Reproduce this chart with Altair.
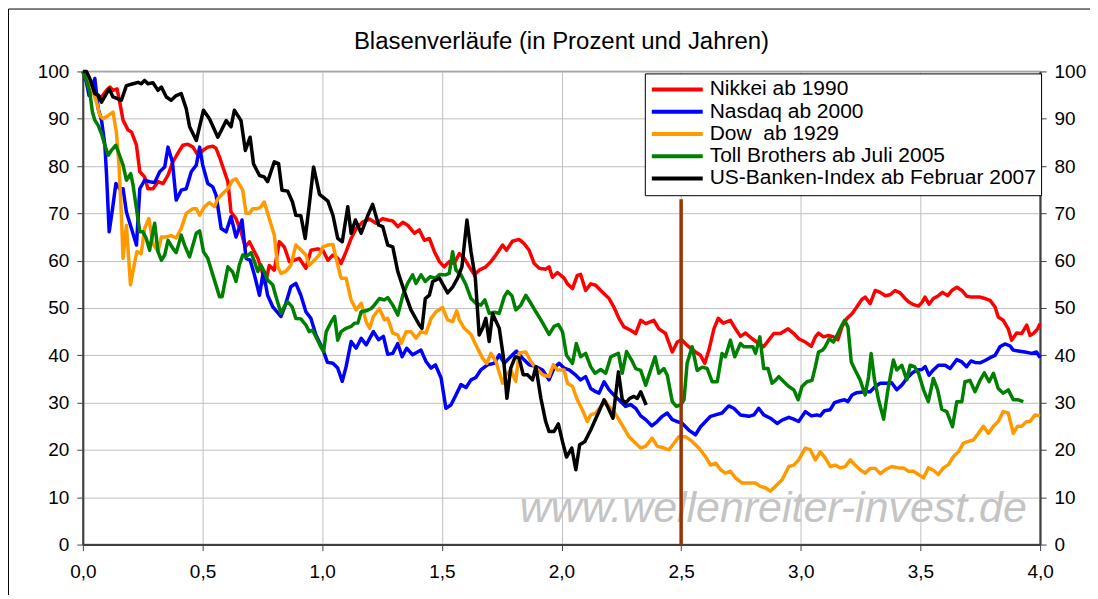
import altair as alt
import pandas as pd

FONT = "Liberation Sans"

title_text = "Blasenverläufe (in Prozent und Jahren)"
watermark_text = ["www.wellenreiter-invest.de"]
watermark_x = [2.885]
watermark_y = [4.85]

series_names = [
    "Nikkei ab 1990",
    "Nasdaq ab 2000",
    "Dow\u00a0 ab 1929",
    "Toll Brothers ab Juli 2005",
    "US-Banken-Index ab Februar 2007",
]
series_colors = ["#FF0000", "#0000FF", "#FF9900", "#008000", "#000000"]

x_ticks = [0.0, 0.5, 1.0, 1.5, 2.0, 2.5, 3.0, 3.5, 4.0]
y_ticks = [0, 10, 20, 30, 40, 50, 60, 70, 80, 90, 100]

marker_x = [2.5]
marker_y = [0]
marker_y2 = [73]

# ---- Nikkei ab 1990 ----
nikkei_x = [0.000, 0.015, 0.036, 0.057, 0.078, 0.099, 0.113, 0.126, 0.143, 0.154,
            0.168, 0.189, 0.203, 0.224, 0.238, 0.258, 0.272, 0.293, 0.314, 0.335,
            0.356, 0.376, 0.404, 0.418, 0.439, 0.460, 0.481, 0.501, 0.522, 0.543,
            0.557, 0.571, 0.585, 0.606, 0.619, 0.640, 0.661, 0.679, 0.696, 0.717,
            0.731, 0.749, 0.762, 0.779, 0.800, 0.821, 0.842, 0.863, 0.883, 0.904,
            0.932, 0.953, 0.981,
            1.003, 1.024, 1.045, 1.065, 1.079, 1.100, 1.121, 1.142, 1.170, 1.198,
            1.225, 1.253, 1.274, 1.295, 1.316, 1.337, 1.357, 1.385, 1.406, 1.427,
            1.448, 1.469, 1.490, 1.510, 1.531, 1.552, 1.573, 1.594, 1.615, 1.636,
            1.656, 1.684, 1.705, 1.726, 1.754, 1.770, 1.795, 1.823, 1.844, 1.865,
            1.886, 1.907, 1.934, 1.948, 1.962, 1.983, 2.011, 2.025,
            2.046, 2.066, 2.080, 2.101, 2.122, 2.143, 2.164, 2.199, 2.219, 2.240,
            2.261, 2.289, 2.310, 2.331, 2.352, 2.386, 2.407, 2.435, 2.463, 2.484,
            2.502, 2.525, 2.560, 2.581, 2.599, 2.616, 2.637, 2.655, 2.676, 2.706,
            2.727, 2.748, 2.769, 2.797, 2.824, 2.845, 2.866, 2.887, 2.915, 2.947,
            2.971,
            2.991, 3.019, 3.044, 3.061, 3.074, 3.095, 3.116, 3.137, 3.155, 3.172,
            3.193, 3.214, 3.234, 3.255, 3.269, 3.290, 3.311, 3.332, 3.353, 3.373,
            3.394, 3.415, 3.436, 3.450, 3.471, 3.492, 3.508, 3.519, 3.536, 3.554,
            3.575, 3.592, 3.614, 3.631, 3.652, 3.673, 3.693, 3.714, 3.749, 3.770,
            3.791, 3.812, 3.825, 3.846, 3.867, 3.881, 3.902, 3.923, 3.944, 3.958,
            3.972, 3.990, 4.000]
nikkei_y = [100, 98.5, 96.3, 94.9, 94.6, 96, 96.7, 96, 96.3, 93.5,
            89.7, 87.6, 87.2, 84.4, 78.8, 77.7, 75.2, 75.2, 76.7, 76.3,
            78.1, 80.9, 83.3, 84.4, 84.6, 84, 82.3, 83.3, 84, 84.2,
            83.7, 81.9, 79.8, 76.7, 70.3, 68.9, 66.1, 62.9, 64, 61.9,
            60.5, 57.7, 55, 59, 58, 64, 62.9, 59.8, 60.1, 60.5,
            58.4, 62.2, 62.5,
            62.2, 60.1, 61.2, 60.5, 59.4, 61.9, 64.7, 66.8, 68.2, 68.8,
            67.9, 68.9, 68.6, 68.4, 67.2, 68.1, 67.5, 65.8, 66.5, 64.3,
            64.7, 61.9, 59.8, 58.7, 59.8, 59.4, 61.5, 60.5, 58.7, 57,
            58, 58.7, 59.8, 61.2, 63.3, 62.2, 64.1, 64.5, 63.6, 62.2,
            59.4, 58.4, 58.2, 58.7, 56.5, 57.5, 56.3, 55.1,
            54.1, 56.9, 57.1, 53.7, 55.1, 54.8, 53.7, 52, 50.2, 47.8,
            46, 45.3, 44.6, 47.4, 46.7, 47.4, 45.6, 44.6, 40.7, 42.8,
            43.3, 42.1, 40.7, 40, 38.3, 41.1, 45.6, 47.8, 46.8, 47.4,
            45.6, 44, 44.7, 43.5, 42.5, 41.8, 43.2, 44.6, 44.6, 45.6,
            44.6,
            43.5, 42.8, 41.9, 43.9, 44.7, 43.9, 44.2, 43.9, 43.3, 46,
            47.8, 48.8, 50.2, 51.8, 52.3, 50.9, 53.7, 53.3, 52.6, 52.8,
            53.7, 53.2, 52, 51.3, 50.7, 50.4, 51.3, 52.3, 50.8, 52,
            52.6, 53.3, 52.6, 53.7, 54.4, 53.7, 52.5, 52.3, 52.3, 52,
            51.6, 50.2, 48.1, 47.4, 45.6, 43.2, 44.7, 44.6, 46.4, 44.2,
            44.6, 45.6, 46.7]

# ---- Nasdaq ab 2000 ----
nasdaq_x = [0.000, 0.015, 0.026, 0.040, 0.050, 0.064, 0.078, 0.092, 0.099, 0.110,
            0.124, 0.138, 0.154, 0.168, 0.182, 0.203, 0.224, 0.238, 0.258, 0.279,
            0.300, 0.321, 0.342, 0.356, 0.374, 0.390, 0.411, 0.432, 0.453, 0.474,
            0.488, 0.501, 0.522, 0.543, 0.557, 0.578, 0.599, 0.619, 0.640, 0.665,
            0.682, 0.699, 0.717, 0.738, 0.754, 0.772, 0.793, 0.828, 0.846, 0.869,
            0.890, 0.911, 0.932, 0.953, 0.974, 1.001,
            1.022, 1.045, 1.065, 1.084, 1.100, 1.121, 1.142, 1.163, 1.184, 1.214,
            1.236, 1.256, 1.274, 1.295, 1.316, 1.334, 1.353, 1.378, 1.413, 1.434,
            1.455, 1.473, 1.497, 1.517, 1.538, 1.559, 1.580, 1.601, 1.622, 1.642,
            1.663, 1.691, 1.719, 1.740, 1.761, 1.781, 1.812, 1.837, 1.865, 1.893,
            1.921, 1.948, 1.969, 1.990, 2.011, 2.032,
            2.060, 2.080, 2.101, 2.122, 2.143, 2.157, 2.178, 2.199, 2.219, 2.240,
            2.268, 2.289, 2.310, 2.331, 2.352, 2.377, 2.400, 2.421, 2.442, 2.463,
            2.484, 2.505, 2.532, 2.560, 2.581, 2.602, 2.623, 2.644, 2.671, 2.699,
            2.720, 2.748, 2.783, 2.804, 2.824, 2.845, 2.873, 2.901, 2.922, 2.950,
            2.970, 2.991,
            3.019, 3.044, 3.067, 3.081, 3.099, 3.123, 3.141, 3.165, 3.183, 3.197,
            3.214, 3.234, 3.269, 3.290, 3.311, 3.332, 3.360, 3.380, 3.401, 3.422,
            3.443, 3.464, 3.485, 3.506, 3.520, 3.536, 3.554, 3.575, 3.603, 3.624,
            3.652, 3.673, 3.693, 3.711, 3.728, 3.749, 3.770, 3.791, 3.812, 3.832,
            3.853, 3.874, 3.888, 3.909, 3.937, 3.965, 3.985, 4.000]
nasdaq_y = [100, 97.7, 94.9, 97, 98.5, 92.1, 89.7, 84.4, 78.1, 66.1,
            71, 76.3, 75.2, 75.2, 70.3, 66.8, 63.3, 75.2, 77, 76.7,
            76.5, 78.8, 79.8, 84, 80.9, 72.8, 74.9, 75.2, 78.8, 80.2,
            84, 80.2, 76.3, 75.6, 73.8, 66.8, 66.1, 69.3, 65, 68.6,
            60.5, 60.1, 57, 52.7, 57.7, 52.7, 50.3, 48.2, 50.6, 54.5,
            55.2, 52.7, 49.2, 47.8, 44.3, 41.5,
            38.5, 38.3, 37.3, 34.5, 37.6, 42.9, 41.5, 43.6, 42.2, 45,
            43.3, 44, 40.2, 40.4, 42.5, 39.7, 41.5, 40.1, 41.1, 38.7,
            37.3, 38, 35.2, 28.8, 29.5, 31.6, 33.8, 33.2, 34.8, 35.3,
            36.9, 38, 38.3, 40.1, 38.3, 39.4, 40.9, 39.4, 38, 37.6,
            36.9, 34.8, 37.3, 38.3, 37.3, 36.9,
            35.8, 34.8, 35.5, 33, 32.3, 32, 34.4, 32.7, 31.6, 30.6,
            29.2, 29.6, 28.8, 27.2, 26.4, 25.1, 26, 27.1, 27.8, 26.4,
            26, 25.6, 24.2, 23.2, 24.9, 26, 27.1, 27.4, 27.8, 29.3,
            28.8, 27.4, 27.1, 27.4, 28.8, 27.4, 26.7, 25.6, 26.3, 26.9,
            26.5, 26,
            28.1, 27.2, 27.4, 27.2, 28.3, 28.5, 30, 30.4, 30.6, 30.2,
            31.6, 32.1, 32.3, 32.3, 33.4, 34.1, 34.1, 34.2, 32.7, 33.7,
            35.1, 36.2, 36.9, 37, 37.6, 35.8, 36.9, 37.9, 37.9, 37.2,
            39.1, 38.6, 37.6, 38.8, 38.5, 38.4, 38.9, 39.5, 40, 41.8,
            42.4, 42, 41.1, 40.9, 40.7, 40.4, 40.7, 39.5]

# ---- Dow ab 1929 ----
dow_x = [0.000, 0.015, 0.029, 0.043, 0.057, 0.071, 0.085, 0.106, 0.126, 0.140,
         0.151, 0.161, 0.168, 0.182, 0.199, 0.217, 0.226, 0.244, 0.258, 0.276,
         0.293, 0.314, 0.328, 0.349, 0.369, 0.390, 0.411, 0.432, 0.460, 0.474,
         0.488, 0.508, 0.529, 0.550, 0.564, 0.585, 0.606, 0.626, 0.640, 0.668,
         0.682, 0.696, 0.710, 0.731, 0.744, 0.758, 0.779, 0.800, 0.814, 0.828,
         0.849, 0.869, 0.890, 0.911, 0.932, 0.946, 0.967, 0.988,
         1.003, 1.024, 1.045, 1.065, 1.079, 1.100, 1.121, 1.142, 1.163, 1.184,
         1.198, 1.214, 1.239, 1.260, 1.274, 1.295, 1.316, 1.330, 1.351, 1.371,
         1.392, 1.413, 1.434, 1.455, 1.476, 1.503, 1.524, 1.545, 1.562, 1.573,
         1.594, 1.622, 1.642, 1.670, 1.688, 1.705, 1.726, 1.754, 1.768, 1.788,
         1.809, 1.823, 1.851, 1.872, 1.893, 1.921, 1.948, 1.966, 1.983, 2.011,
         2.025, 2.046, 2.066, 2.087, 2.108, 2.122, 2.143, 2.164, 2.185, 2.199,
         2.219, 2.240, 2.261, 2.282, 2.310, 2.331, 2.352, 2.379, 2.400, 2.428,
         2.449, 2.470, 2.491, 2.518, 2.546, 2.574, 2.602, 2.623, 2.644, 2.665,
         2.685, 2.706, 2.727, 2.755, 2.790, 2.810, 2.831, 2.852, 2.873, 2.894,
         2.922, 2.950, 2.971, 2.991,
         3.019, 3.040, 3.061, 3.081, 3.102, 3.123, 3.144, 3.165, 3.186, 3.207,
         3.227, 3.248, 3.269, 3.290, 3.311, 3.332, 3.353, 3.380, 3.408, 3.429,
         3.450, 3.471, 3.492, 3.513, 3.533, 3.554, 3.575, 3.596, 3.617, 3.638,
         3.659, 3.679, 3.700, 3.721, 3.742, 3.763, 3.784, 3.805, 3.825, 3.846,
         3.867, 3.888, 3.906, 3.923, 3.944, 3.958, 3.979, 4.000]
dow_y = [100, 98.5, 97, 95.6, 93.5, 90.7, 90, 90.7, 91.4, 87.2,
         80.2, 69.6, 60.5, 67.5, 54.9, 59.8, 61.9, 61.5, 66.8, 68.9,
         63.6, 61.9, 65, 65, 65.3, 64.8, 66.8, 70, 71, 71,
         69.6, 71.4, 72.3, 71.4, 73.1, 74.2, 75.2, 77, 77.3, 74.9,
         70, 70, 71, 71, 71.4, 72.4, 68.9, 65.4, 58.7, 57.3,
         57.8, 59, 63.3, 62.3, 61.2, 59, 60.1, 61.2,
         62.9, 63.3, 63.4, 59.1, 56.3, 56.3, 51.7, 49.6, 51, 47.1,
         45.7, 48.2, 49.9, 47.5, 47.8, 44.7, 44.3, 42.5, 45, 45,
         43.6, 45, 44.7, 47.8, 49.2, 50.1, 47.5, 47.1, 49.4, 47.5,
         45.7, 44.4, 42.2, 39.4, 38.3, 40.4, 38.7, 34.1, 35.9, 36.9,
         34.5, 40.5, 40.7, 38.7, 37.3, 35.9, 35.5, 38, 36.9, 36.9,
         34.1, 33.4, 30.6, 28.5, 26, 27.4, 27.8, 29.2, 30.2, 29.2,
         28.1, 26.4, 24.6, 22.8, 21.4, 20.4, 20.8, 22.5, 20.8, 20.4,
         20, 21.4, 22.8, 22.8, 21.8, 20.4, 18.6, 16.8, 17.2, 15.8,
         15.1, 15.5, 14.1, 13, 13, 13, 12.3, 12, 11.3, 12.3,
         13.7, 16.5, 16.8, 17.9,
         20.4, 20, 17.9, 19.6, 18.3, 16.5, 16.8, 16.2, 16.5, 17.9,
         16.8, 15.8, 15.1, 16.1, 16.1, 15, 15.8, 16.5, 16.2, 16.2,
         15.5, 15.5, 14.8, 14.1, 16.2, 15.7, 14.8, 16.2, 16.9, 18.6,
         19.6, 21.4, 21.8, 22.1, 23.5, 25, 23.5, 25, 26, 28.1,
         27.8, 23.5, 25, 25, 26, 26, 27.4, 27.2]

# ---- Toll Brothers ab Juli 2005 ----
toll_x = [0.000, 0.015, 0.029, 0.040, 0.050, 0.064, 0.078, 0.092, 0.106, 0.119,
          0.138, 0.151, 0.168, 0.182, 0.200, 0.210, 0.224, 0.238, 0.251, 0.265,
          0.279, 0.290, 0.300, 0.314, 0.328, 0.342, 0.356, 0.376, 0.390, 0.411,
          0.425, 0.446, 0.460, 0.474, 0.488, 0.504, 0.522, 0.543, 0.571, 0.582,
          0.606, 0.626, 0.640, 0.654, 0.668, 0.682, 0.703, 0.717, 0.731, 0.744,
          0.758, 0.772, 0.793, 0.807, 0.828, 0.842, 0.856, 0.874, 0.890, 0.911,
          0.932, 0.946, 0.960, 0.981, 0.994, 1.006,
          1.017, 1.038, 1.052, 1.065, 1.079, 1.100, 1.121, 1.135, 1.149, 1.163,
          1.184, 1.205, 1.218, 1.239, 1.260, 1.274, 1.295, 1.316, 1.337, 1.357,
          1.378, 1.392, 1.413, 1.431, 1.451, 1.473, 1.492, 1.515, 1.531, 1.545,
          1.559, 1.580, 1.601, 1.622, 1.642, 1.663, 1.680, 1.698, 1.719, 1.740,
          1.761, 1.775, 1.793, 1.809, 1.830, 1.851, 1.872, 1.893, 1.914, 1.934,
          1.948, 1.969, 1.987, 2.004,
          2.021, 2.046, 2.062, 2.080, 2.101, 2.122, 2.140, 2.164, 2.185, 2.206,
          2.219, 2.238, 2.254, 2.272, 2.293, 2.310, 2.331, 2.352, 2.372, 2.391,
          2.407, 2.428, 2.442, 2.463, 2.480, 2.498, 2.512, 2.525, 2.546, 2.567,
          2.588, 2.609, 2.630, 2.651, 2.671, 2.685, 2.706, 2.724, 2.748, 2.762,
          2.786, 2.800, 2.811, 2.829, 2.845, 2.863, 2.880, 2.894, 2.908, 2.929,
          2.950, 2.971, 2.989,
          3.005, 3.026, 3.047, 3.061, 3.074, 3.091, 3.102, 3.119, 3.137, 3.155,
          3.172, 3.183, 3.197, 3.211, 3.227, 3.248, 3.269, 3.283, 3.294, 3.308,
          3.325, 3.346, 3.364, 3.387, 3.401, 3.422, 3.443, 3.457, 3.475, 3.492,
          3.513, 3.533, 3.554, 3.572, 3.589, 3.610, 3.634, 3.652, 3.673, 3.686,
          3.707, 3.728, 3.749, 3.767, 3.787, 3.805, 3.825, 3.846, 3.867, 3.888,
          3.909, 3.930]
toll_y = [100, 98.1, 95.6, 91.4, 89.7, 88.6, 86.8, 84.4, 82.3, 83.3,
          84.4, 82.6, 80.2, 77, 78.4, 75.9, 71, 66.1, 66.1, 64.7,
          62.2, 65.4, 67.9, 61.9, 60.1, 61.2, 64.3, 62.6, 61.7, 65.4,
          63.3, 60.8, 63.3, 65.8, 66.3, 61.9, 60.5, 57, 52.4, 52.4,
          58.7, 57.6, 55.6, 59.1, 61.2, 60.8, 61.7, 59.8, 57.7, 59.1,
          57.7, 55.9, 54.9, 52.4, 48.9, 50.3, 51.3, 50.3, 47.8, 47.7,
          46.4, 45, 45.3, 43.2, 41.8, 40.8,
          45, 47.1, 48.2, 43.2, 45, 45.7, 46.1, 46.8, 46.8, 49.2,
          49.4, 49.9, 50.6, 52, 51.7, 52.2, 50.6, 48.5, 52.7, 55.2,
          57, 55.2, 57, 55.6, 56.6, 56.3, 57.1, 57, 57.3, 61.9,
          58, 57, 54.9, 52, 51, 50.6, 51.7, 48.9, 49.1, 48.9,
          52.4, 53.5, 52.6, 49.6, 50.6, 52.7, 51, 49.2, 47.5, 45.7,
          44.4, 46.1, 46.5, 45,
          40, 38.3, 42.5, 39.7, 40.4, 37.6, 36.2, 37, 36.2, 39.7,
          40, 40.4, 36.2, 40.8, 39, 37.2, 36.8, 33.7, 36.8, 39.7,
          36.2, 37.2, 35.8, 30.2, 29.2, 29.5, 30.6, 38.3, 41.8, 36.8,
          37.5, 37.2, 34.4, 34.4, 40.4, 39.7, 43.2, 39.7, 42.5, 41.8,
          41.8, 41.8, 40.4, 43.9, 37.2, 37.2, 34.1, 34.7, 35.5, 34.4,
          33.4, 32.7, 30.6,
          33.4, 34.4, 34.7, 37.6, 40.7, 41.1, 41.8, 43.5, 42.8, 44.6,
          46.4, 47.4, 46, 38.6, 36.9, 34.8, 31.6, 35.4, 40.4, 34.8,
          30.6, 26.5, 32.7, 39, 36.9, 37.9, 34.8, 37.9, 37.6, 36.2,
          32.7, 30.2, 35.1, 32.7, 28.6, 28.1, 24.9, 30.2, 30.2, 34.4,
          34.7, 32.3, 34.7, 36.3, 34.4, 36.2, 33, 32, 32.7, 30.6,
          30.6, 30.2]

# ---- US-Banken-Index ab Februar 2007 ----
banks_x = [0.000, 0.015, 0.029, 0.050, 0.064, 0.078, 0.110, 0.126, 0.147, 0.161,
           0.182, 0.210, 0.231, 0.244, 0.258, 0.272, 0.293, 0.314, 0.328, 0.349,
           0.369, 0.390, 0.411, 0.432, 0.446, 0.474, 0.504, 0.529, 0.564, 0.599,
           0.619, 0.633, 0.661, 0.679, 0.699, 0.713, 0.738, 0.758, 0.772, 0.800,
           0.818, 0.832, 0.856, 0.876, 0.890, 0.911, 0.929, 0.946, 0.964, 0.989,
           1.024, 1.045, 1.065, 1.084, 1.107, 1.121, 1.139, 1.163, 1.191, 1.211,
           1.236, 1.253, 1.274, 1.295, 1.316, 1.344, 1.371, 1.406, 1.417, 1.431,
           1.448, 1.462, 1.490, 1.524, 1.545, 1.566, 1.584, 1.605, 1.622, 1.640,
           1.656, 1.670, 1.684, 1.698, 1.712, 1.740, 1.758, 1.772, 1.788, 1.807,
           1.823, 1.840, 1.858, 1.879, 1.893, 1.914, 1.934, 1.948, 1.969, 1.987,
           2.004, 2.021,
           2.043, 2.060, 2.076, 2.098, 2.122, 2.154, 2.178, 2.196, 2.215, 2.238,
           2.254, 2.268, 2.285, 2.303, 2.317, 2.331, 2.354]
banks_y = [100, 100, 98.5, 95.3, 95, 93.5, 96.3, 94.6, 94.2, 93.9,
           97, 97.4, 97.7, 97.4, 98.1, 97.4, 97.6, 96, 96.7, 94.6,
           93.9, 94.9, 95.3, 92.1, 88.3, 85.4, 91.8, 90, 86.1, 89.6,
           88.3, 91.8, 89.6, 83.3, 86.1, 80.5, 78, 77.7, 76.7, 80.9,
           80.5, 74.9, 74.7, 72.4, 69.6, 69.5, 64.7, 71.7, 79.8, 74,
           72.6, 69.6, 64.7, 64, 71.4, 65.8, 68.6, 65.8, 69.6, 71.9,
           67.5, 67.2, 63.3, 62.9, 57.7, 53.4, 49.6, 46.4, 45.7, 52,
           52.7, 55.6, 56.3, 53.2, 54.4, 56.3, 58.7, 68.6, 61.9, 56.3,
           44.3, 45.7, 47.8, 42.9, 48.8, 45.7, 39.4, 30.9, 37.3, 39.7,
           39.4, 35.9, 35.9, 34.8, 37.6, 30.9, 26, 23.9, 23.9, 25.5,
           21.8, 18.5,
           20.4, 15.8, 21.1, 21.8, 24.2, 27.8, 30.6, 28.8, 26.7, 36.5,
           30.6, 29.9, 30.9, 31.3, 30.9, 32.3, 29.5]

series_data = [
    (series_names[0], nikkei_x, nikkei_y),
    (series_names[1], nasdaq_x, nasdaq_y),
    (series_names[2], dow_x, dow_y),
    (series_names[3], toll_x, toll_y),
    (series_names[4], banks_x, banks_y),
]

frames = []
for name, xs, ys in series_data:
    assert len(xs) == len(ys), (name, len(xs), len(ys))
    frames.append(pd.DataFrame({"jahr": xs, "wert": ys, "serie": name}))
df = pd.concat(frames, ignore_index=True)

x_scale = alt.Scale(domain=[0, 4], nice=False, zero=False)
y_scale = alt.Scale(domain=[0, 100], nice=False)
color_scale = alt.Scale(domain=series_names, range=series_colors)

x_axis = alt.Axis(
    values=x_ticks, title=None, grid=True, gridColor="#c0c0c0", gridWidth=1,
    domainColor="#404040", domainWidth=2, tickColor="#404040", tickWidth=1,
    tickSize=6, labelFontSize=19, labelFont=FONT, labelColor="black",
    labelPadding=12, labelFlush=False, labelOverlap=False,
    labelExpr="replace(format(datum.value, '.1f'), '.', ',')",
)
y_axis_left = alt.Axis(
    values=y_ticks, title=None, grid=True, gridColor="#c0c0c0", gridWidth=1,
    domainColor="#404040", domainWidth=2, tickColor="#404040", tickWidth=1,
    tickSize=6, labelFontSize=19, labelFont=FONT, labelColor="black",
    labelPadding=8, labelFlush=False, labelOverlap=False, orient="left",
)
y_axis_right = alt.Axis(
    values=y_ticks, title=None, grid=False,
    domainColor="#404040", domainWidth=2, tickColor="#404040", tickWidth=1,
    tickSize=6, labelFontSize=19, labelFont=FONT, labelColor="black",
    labelPadding=8, labelFlush=False, labelOverlap=False, orient="right",
)

legend = alt.Legend(
    title=None, orient="none", legendX=563, legendY=2,
    symbolType="stroke", symbolSize=2601, symbolStrokeWidth=4,
    clipHeight=22, rowPadding=0.3, labelFontSize=21, labelFont=FONT,
    labelColor="black", labelOffset=5, padding=5, labelLimit=500,
    strokeColor="black", fillColor="white", symbolOpacity=1,
)

wm_df = pd.DataFrame({"jahr": watermark_x, "wert": watermark_y, "text": watermark_text})
watermark = alt.Chart(wm_df).mark_text(
    font=FONT, fontSize=43, fontStyle="italic", color="#c4c4c4",
    align="center", baseline="alphabetic",
).encode(
    x=alt.X("jahr:Q", scale=x_scale, axis=x_axis),
    y=alt.Y("wert:Q", scale=y_scale, axis=y_axis_left),
    text="text:N",
)

line_layers = []
for name in series_names:
    line_layers.append(
        alt.Chart(df[df["serie"] == name]).mark_line(
            strokeWidth=3.5, strokeJoin="round"
        ).encode(
            x=alt.X("jahr:Q", scale=x_scale, axis=x_axis),
            y=alt.Y("wert:Q", scale=y_scale, axis=y_axis_left),
            color=alt.Color("serie:N", scale=color_scale, legend=legend),
            order=alt.Order("jahr:Q"),
        )
    )

rule_df = pd.DataFrame({"jahr": marker_x, "wert": marker_y, "wert2": marker_y2})
marker = alt.Chart(rule_df).mark_rule(color="#993300", strokeWidth=3.5).encode(
    x=alt.X("jahr:Q", scale=x_scale, axis=x_axis),
    y=alt.Y("wert:Q", scale=y_scale, axis=y_axis_left),
    y2="wert2:Q",
)

inner = alt.layer(watermark, *line_layers, marker)

right_axis = alt.Chart(df).mark_line(opacity=0).encode(
    x=alt.X("jahr:Q", scale=x_scale, axis=x_axis),
    y=alt.Y("wert:Q", scale=y_scale, axis=y_axis_right),
    detail="serie:N",
)

frame_df = pd.DataFrame({"k": [0]})
outer_frame = alt.Chart(frame_df).mark_rect(
    fill=None, stroke="black", strokeWidth=1, fillOpacity=0
).encode(
    x=alt.value(-74.5), x2=alt.value(1200),
    y=alt.value(-62.5), y2=alt.value(700),
)

chart = alt.layer(inner, right_axis, outer_frame).resolve_scale(
    y="independent"
).properties(
    width=959, height=474,
    padding={"left": 75, "top": 63, "right": 50, "bottom": 50},
    autosize=alt.AutoSizeParams(type="none"),
    title=alt.TitleParams(
        text=title_text, fontSize=24, font=FONT, fontWeight="normal",
        color="black", anchor="middle", frame="group", offset=-65,
        baseline="alphabetic",
    ),
).configure(font=FONT).configure_view(stroke="#808080", strokeWidth=1.5)

chart.save("out.html", embed_options={"renderer": "svg", "actions": False})
